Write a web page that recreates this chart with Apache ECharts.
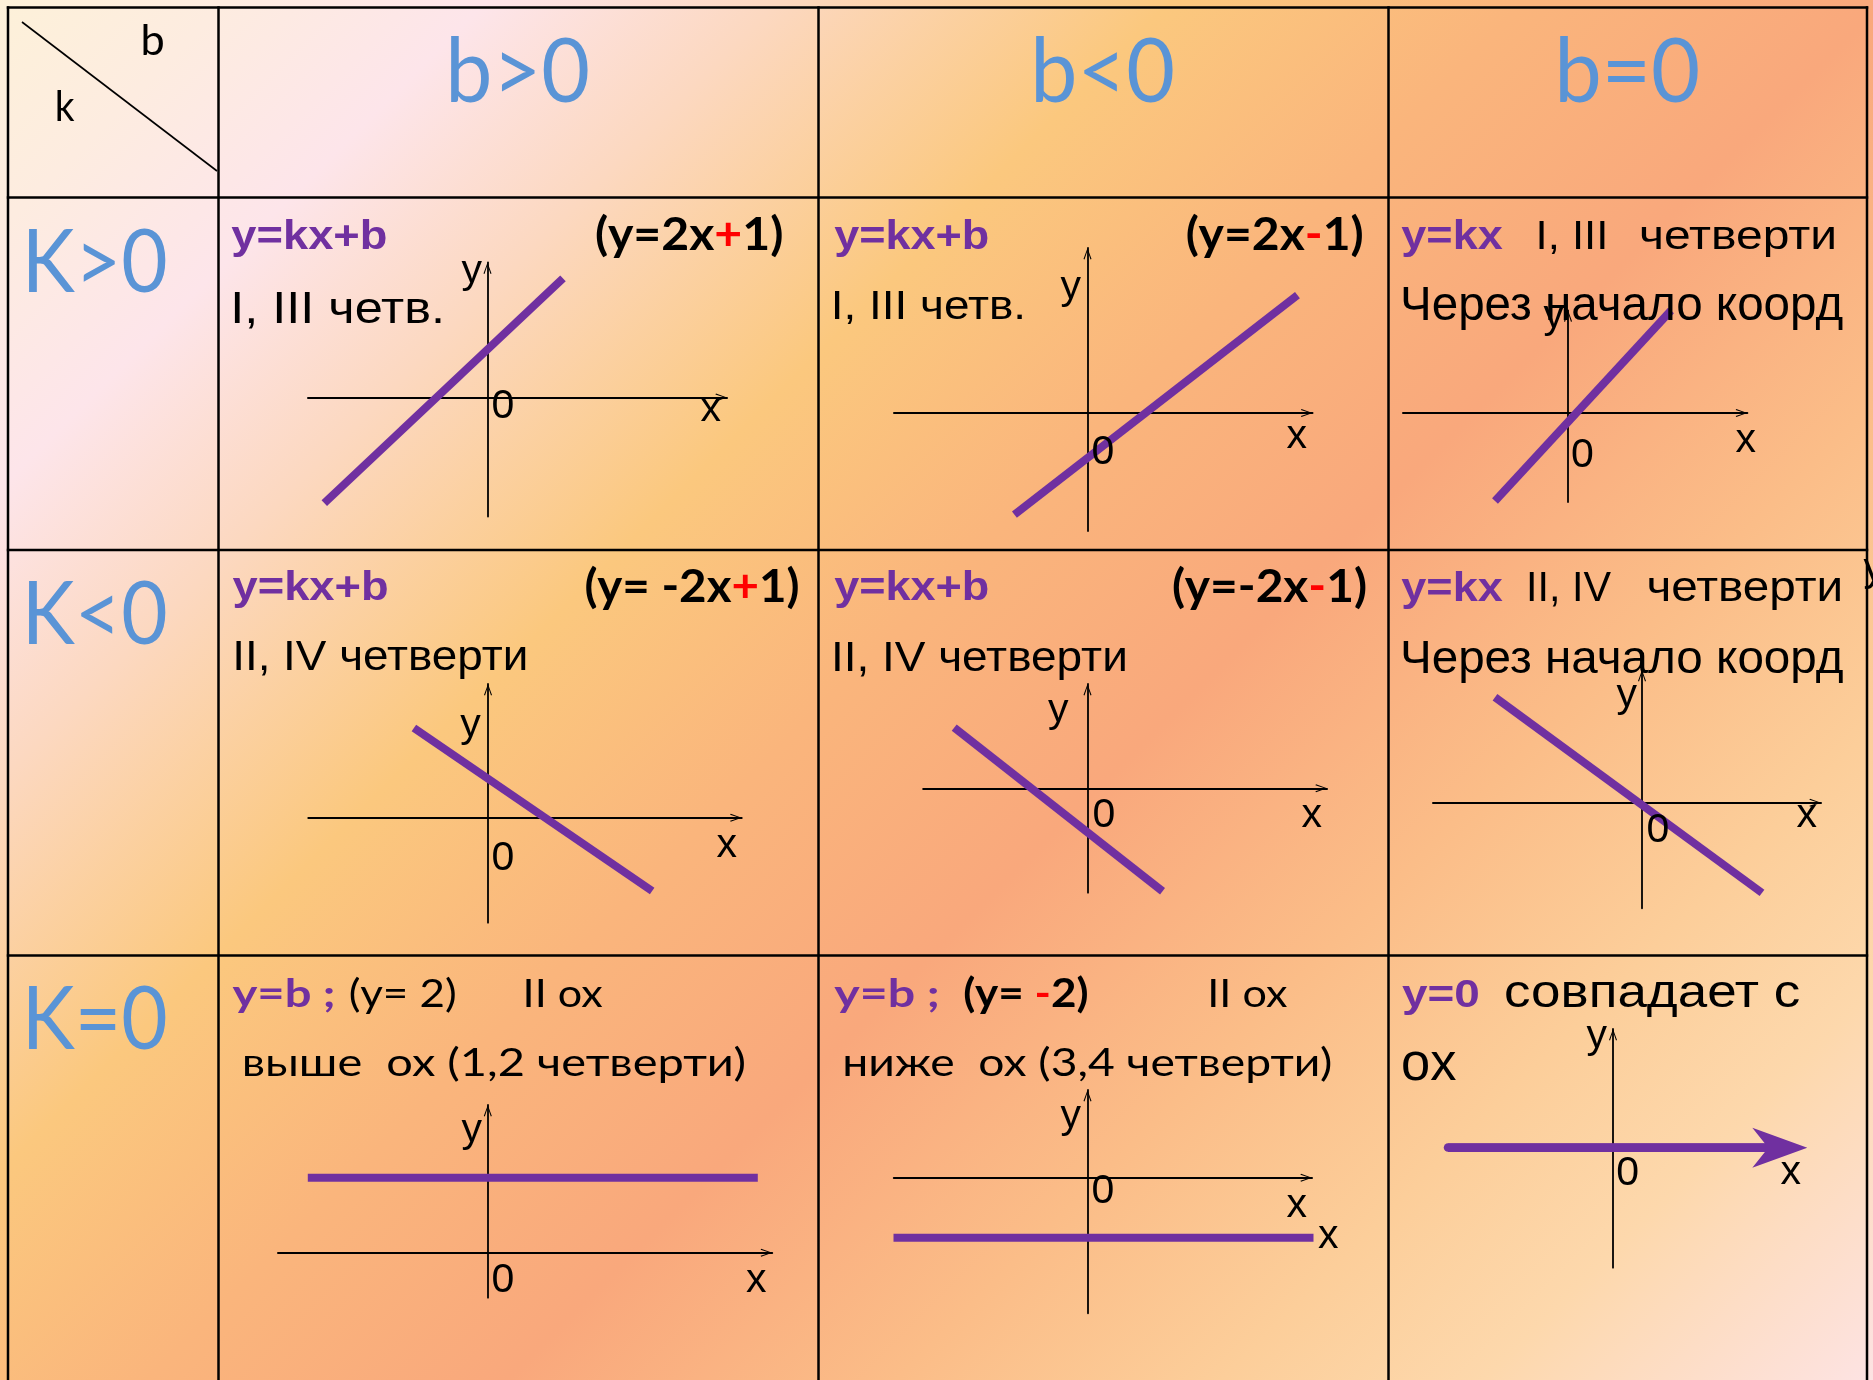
<!DOCTYPE html>
<html><head><meta charset="utf-8">
<script src="https://cdn.jsdelivr.net/npm/echarts@6/dist/echarts.min.js"></script>
<style>html,body{margin:0;padding:0;background:#fbc880;overflow:hidden}#c{width:1873px;height:1380px}</style>
</head><body><div id="c"></div>
<script>
// ---------------- DATA ----------------
const colHeads = ['b>0', 'b<0', 'b=0'];
const rowHeads = ['K>0', 'K<0', 'K=0'];
const cornerLabels = ['b', 'k'];
// line segment end points of each graph, in graph units [x, y]
const lineA = [[-1.6, -2.2], [0.74, 2.48]];    // y = 2x + 1
const lineB = [[-0.63, -2.26], [1.81, 2.62]];  // y = 2x - 1
const lineC = [[-0.73, -1.76], [1.03, 2.05]];  // y = kx, k > 0
const lineD = [[-0.65, 2.3], [1.44, -1.88]];   // y = -2x + 1
const lineE = [[-1.19, 1.38], [0.67, -2.34]];  // y = -2x - 1
const lineF = [[-1.47, 2.89], [1.2, -2.47]];   // y = kx, k < 0
const lineG = [[-1.8, 2], [2.7, 2]];           // y = 2
const lineH = [[-1.94, -2], [2.26, -2]];       // y = -2
const lineI = [[-1.65, 0], [1.67, 0]];         // y = 0
const graphLines = [lineA, lineB, lineC, lineD, lineE, lineF, lineG, lineH, lineI];
// texts inside the cells ({r|..} = red part)
const cellTexts = [
  'y=kx+b', '(y=2x{r|+}1)', 'I, III четв.',
  'y=kx+b', '(y=2x{r|-}1)', 'I, III четв.',
  'y=kx', 'I, III', 'четверти', 'Через начало коорд',
  'y=kx+b', '(y= -2x{r|+}1)', 'II, IV четверти',
  'y=kx+b', '(y=-2x{r|-}1)', 'II, IV четверти',
  'y=kx', 'II, IV', 'четверти', 'Через начало коорд',
  'y=b ;', '(y= 2)', 'II ox', 'выше  ox (1,2 четверти)',
  'y=b ;', '(y= {r|-}2)', 'II ox', 'ниже  ox (3,4 четверти)',
  'y=0', 'совпадает с', 'ox'
];
const axisNames = [
  ['y', '0', 'x'], ['y', '0', 'x'], ['y', '0', 'x'],
  ['y', '0', 'x'], ['y', '0', 'x'], ['y', '0', 'x'],
  ['y', '0', 'x'], ['y', '0', 'x', 'x'], ['y', '0', 'x']
];
const edgeFragment = 'y';

// ---------------- LAYOUT / STYLE ----------------
const PURPLE = '#7030a0', BLUE = '#5a94d6';
const FAM = { LS: '"Liberation Sans", Arial, sans-serif', LT: 'Lato, "Noto Sans", sans-serif' };
const STY = {
  head: ['LT', 'normal', BLUE], corner: ['LT', 'normal', '#000'],
  gen: ['LS', 'bold', PURPLE], genC: ['LT', 'bold', PURPLE],
  ex: ['LT', 'bold', '#000'], exR: ['LT', 'normal', '#000'],
  note: ['LS', 'normal', '#000'], noteC: ['LT', 'normal', '#000']
};
// [inkLeft, inkRight, baseline, capHeight, style]
const headBoxes = [
  [451, 588, 101.5, 63.5, 'head'], [1036, 1173, 101.5, 63.5, 'head'], [1560, 1698, 101.5, 63.5, 'head']
];
const rowBoxes = [
  [29, 166, 292, 63, 'head'], [29, 166, 643.5, 63, 'head'], [29, 166, 1049, 63, 'head']
];
const cornerBoxes = [[143.5, 163.6, 54.5, 31, 'corner'], [57.4, 74.6, 120.5, 31, 'corner']];
const cellBoxes = [
  [231.3, 386.3, 249.3, 28.5, 'gen'], [596, 781.7, 250, 33.3, 'ex'], [234.7, 441.3, 323, 30.5, 'note'],
  [834.2, 988.2, 249.3, 28.5, 'gen'], [1186.7, 1361.3, 250, 33.3, 'ex'], [834.2, 1022.4, 319, 28, 'note'],
  [1401.3, 1503, 249.3, 28.5, 'gen'], [1538.7, 1604.7, 249.3, 28.5, 'note'], [1641.3, 1834.7, 249.3, 28.5, 'note'], [1403, 1843, 319.5, 33.3, 'note'],
  [232.5, 387.5, 600, 28.5, 'gen'], [585.5, 798, 602, 33, 'ex'], [235.4, 525.3, 670, 29.5, 'note'],
  [834.2, 988.2, 600, 28.5, 'gen'], [1173, 1364.7, 602, 33, 'ex'], [834.2, 1125.1, 670.5, 29, 'note'],
  [1401.3, 1503, 601, 28.5, 'gen'], [1529, 1611, 601, 29, 'note'], [1648.7, 1840.4, 601, 29, 'note'], [1403, 1843, 673, 32.5, 'note'],
  [232.5, 332.8, 1006.7, 27.5, 'genC'], [350, 455.3, 1007, 27.5, 'exR'], [526, 602.6, 1007, 27.5, 'noteC'], [244, 744.2, 1076, 28.5, 'noteC'],
  [834.2, 937, 1006.7, 27.5, 'genC'], [964.3, 1087.5, 1007, 29, 'ex'], [1210.7, 1287.3, 1007, 27.5, 'noteC'], [844.5, 1330.5, 1076, 28.5, 'noteC'],
  [1402, 1478.7, 1006.7, 27.5, 'gen'], [1506.3, 1799.7, 1007, 32.5, 'note'], [1403, 1456.3, 1080, 36, 'note']
];
// axis name positions [inkCenterX, baseline]
const axisNamePos = [
  [[472, 283], [503, 418], [711, 421]],
  [[1071, 298.5], [1103, 464], [1297, 448]],
  [[1554, 328], [1582.5, 467], [1746, 452]],
  [[470.7, 736.5], [503, 870], [727, 856.7]],
  [[1058.4, 721.5], [1104, 826.7], [1312, 826.7]],
  [[1627, 706.5], [1658, 841.7], [1807, 826.7]],
  [[472, 1141.5], [503, 1291.7], [756.6, 1291.7]],
  [[1071, 1128], [1103, 1203.3], [1297, 1216.7], [1328.6, 1248.3]],
  [[1597, 1048], [1627.7, 1185], [1791, 1184.3]]
];
const edgeFragmentPos = [1874, 581];
// graph frames: [originX, originY, pxPerUnitX, pxPerUnitY, xAxisLeft, xAxisRight, yAxisBottom, yAxisTop]
const frames = [
  [487.5, 397.5, 102, 48, 308, 727, 516.5, 262.5],
  [1087.5, 413, 116, 45, 894, 1312.5, 531, 248],
  [1568, 413, 100, 50, 1403, 1747.3, 502, 310.3],
  [488, 817.7, 114, 39, 308.3, 741.7, 922.7, 684],
  [1087.5, 788.3, 112, 44, 923.2, 1327, 892.7, 684],
  [1642, 802.7, 100, 36.5, 1433, 1821, 908.3, 670],
  [487.8, 1252.7, 100, 37.5, 278, 772.2, 1297.7, 1105],
  [1087.5, 1177.7, 100, 30, 893.8, 1312, 1313.3, 1090],
  [1613, 1147.7, 100, 50, 1448, 1779.8, 1267.7, 1029]
];
const vLines = [8, 218.5, 818.5, 1388.5, 1867];
const hLines = [7.5, 197.5, 550, 955.5];

// ---------------- BUILD ----------------
const cv = document.createElement('canvas').getContext('2d');
function fstr(fam, wt, size) { return wt + ' ' + size.toFixed(2) + 'px ' + FAM[fam]; }
function capR(fam, wt) { cv.font = fstr(fam, wt, 200); cv.textBaseline = 'alphabetic'; return cv.measureText('H').actualBoundingBoxAscent / 200; }
// distance from the canvas 'middle' baseline down to the alphabetic baseline
function midOffset(font) {
  cv.font = font;
  cv.textBaseline = 'alphabetic';
  const a = cv.measureText('H').actualBoundingBoxAscent;
  cv.textBaseline = 'middle';
  const b = cv.measureText('H').actualBoundingBoxAscent;
  cv.textBaseline = 'alphabetic';
  return a - b;
}
function textEl(txt, box) {
  const [L, R, B, H, sk] = box;
  const [fam, wt, col] = STY[sk];
  const size = H / capR(fam, wt);
  const font = fstr(fam, wt, size);
  const off = midOffset(font);
  cv.font = font;
  cv.textBaseline = 'alphabetic';
  const plain = txt.replace(/\{\w+\|([^}]*)\}/g, '$1');
  const m = cv.measureText(plain);
  const ink = m.actualBoundingBoxLeft + m.actualBoundingBoxRight;
  const sx = (R - L) / ink;
  return {
    type: 'text', x: L + m.actualBoundingBoxLeft * sx, y: B - off, scaleX: sx, z: 20, silent: true,
    style: { text: txt, font: font, fill: col, align: 'left', verticalAlign: 'middle',
      textAlign: 'left', textVerticalAlign: 'middle', rich: { r: { fill: '#ff0000', font: font } } }
  };
}
function labEl(ch, pos) {
  const font = '41px "Liberation Sans", Arial, sans-serif';
  const off = midOffset(font);
  cv.font = font;
  const m = cv.measureText(ch);
  return { type: 'text', x: pos[0] - (m.actualBoundingBoxRight - m.actualBoundingBoxLeft) / 2, y: pos[1] - off,
    z: 20, silent: true,
    style: { text: ch, font: font, fill: '#000', align: 'left', verticalAlign: 'middle', textAlign: 'left', textVerticalAlign: 'middle' } };
}

const graphics = [];
graphics.push({
  type: 'rect', z: -100, silent: true, shape: { x: 0, y: 0, width: 1873, height: 1380 },
  style: { fill: new echarts.graphic.LinearGradient(0, 0, 1626.5, 1626.5, [
    { offset: 0, color: '#fdf1d9' }, { offset: 0.07, color: '#fdece0' }, { offset: 0.15, color: '#fde5ea' },
    { offset: 0.24, color: '#fcd8c0' }, { offset: 0.36, color: '#fbc87e' }, { offset: 0.47, color: '#fab57c' },
    { offset: 0.58, color: '#f9a87c' }, { offset: 0.70, color: '#fbbd88' }, { offset: 0.80, color: '#fcce9a' },
    { offset: 0.88, color: '#fdd8ac' }, { offset: 1, color: '#fde3e3' }], true) }
});
vLines.forEach(x => graphics.push({ type: 'line', z: 5, silent: true, shape: { x1: x, y1: 6.3, x2: x, y2: 1380 }, style: { stroke: '#000', lineWidth: 2.5 } }));
hLines.forEach(y => graphics.push({ type: 'line', z: 5, silent: true, shape: { x1: 6.8, y1: y, x2: 1868.2, y2: y }, style: { stroke: '#000', lineWidth: 2.5 } }));
graphics.push({ type: 'line', z: 5, silent: true, shape: { x1: 22, y1: 22, x2: 217, y2: 171 }, style: { stroke: '#000', lineWidth: 1.6 } });

cornerLabels.forEach((t, i) => graphics.push(textEl(t, cornerBoxes[i])));
colHeads.forEach((t, i) => graphics.push(textEl(t, headBoxes[i])));
rowHeads.forEach((t, i) => graphics.push(textEl(t, rowBoxes[i])));
cellTexts.forEach((t, i) => graphics.push(textEl(t, cellBoxes[i])));
axisNames.forEach((names, i) => names.forEach((n, j) => graphics.push(labEl(n, axisNamePos[i][j]))));
graphics.push(labEl(edgeFragment, edgeFragmentPos));

const SMALL_ARROW = 'path://M4,0L8,11L7,11.6L4,2.4L1,11.6L0,11Z';
const BIG_ARROW = 'path://M20,0L40,55L20,39L0,55Z';
const grid = [], xAxis = [], yAxis = [], series = [];
frames.forEach((p, i) => {
  const [ox, oy, ux, uy, xl, xr, yb, yt] = p;
  const big = i === 8;
  grid.push({ left: xl, top: yt, width: xr - xl, height: yb - yt, containLabel: false, outerBoundsMode: 'none', show: false });
  const common = { axisTick: { show: false }, axisLabel: { show: false }, splitLine: { show: false }, silent: true };
  xAxis.push(Object.assign({
    type: 'value', gridIndex: i, min: (xl - ox) / ux, max: (xr - ox) / ux,
    axisLine: { show: true, onZero: true, lineStyle: { color: big ? PURPLE : '#000', width: big ? 8.5 : 2 },
      symbol: ['none', big ? BIG_ARROW : SMALL_ARROW], symbolSize: big ? [40.6, 55] : [8, 11.6],
      symbolOffset: big ? [0, 0] : [0, -5.8] }
  }, common));
  yAxis.push(Object.assign({
    type: 'value', gridIndex: i, min: -(yb - oy) / uy, max: (oy - yt) / uy,
    axisLine: { show: true, onZero: true, lineStyle: { color: '#000', width: 1.8 },
      symbol: ['none', SMALL_ARROW], symbolSize: [8, 11.6], symbolOffset: [0, -5.8] }
  }, common));
  series.push({
    type: 'line', xAxisIndex: i, yAxisIndex: i, data: graphLines[i], symbol: 'none', showSymbol: false,
    lineStyle: { color: PURPLE, width: big ? 8.5 : 8, cap: 'butt' }, clip: false, silent: true, z: 3
  });
});

const chart = echarts.init(document.getElementById('c'), null, { renderer: 'canvas' });
chart.setOption({
  animation: false,
  backgroundColor: '#fbc880',
  grid: grid, xAxis: xAxis, yAxis: yAxis, series: series,
  graphic: { elements: graphics }
});
</script>
</body></html>
